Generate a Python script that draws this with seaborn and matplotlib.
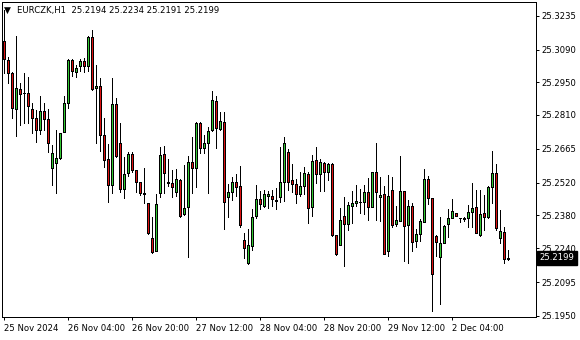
import matplotlib
matplotlib.use("Agg")
import matplotlib.pyplot as plt
import matplotlib.transforms as mtransforms
import seaborn as sns
import pandas as pd
import numpy as np

symbol = "EURCZK,H1"

opens = [
    25.3127, 25.3045, 25.2990, 25.2836, 25.2921, 25.2904, 25.2904, 25.2836, 25.2797, 25.2746,
    25.2827, 25.2793, 25.2583, 25.2604, 25.2626, 25.2737, 25.2861, 25.3045, 25.2994, 25.3020,
    25.3041, 25.3020, 25.3144, 25.2925, 25.2934, 25.2724, 25.2622, 25.2510, 25.2857, 25.2690,
    25.2493, 25.2562, 25.2643, 25.2574, 25.2523, 25.2476, 25.2433, 25.2283, 25.2228, 25.2476,
    25.2643, 25.2521, 25.2519, 25.2480, 25.2532, 25.2386, 25.2416, 25.2609, 25.2583, 25.2776,
    25.2669, 25.2690, 25.2746, 25.2870, 25.2750, 25.2780, 25.2459, 25.2480, 25.2523, 25.2506,
    25.2275, 25.2176, 25.2249, 25.2378, 25.2450, 25.2420, 25.2463, 25.2463, 25.2446, 25.2459,
    25.2523, 25.2651, 25.2532, 25.2514, 25.2472, 25.2506, 25.2557, 25.2416, 25.2617, 25.2557,
    25.2604, 25.2566, 25.2600, 25.2296, 25.2254, 25.2378, 25.2343, 25.2420, 25.2433, 25.2437,
    25.2437, 25.2480, 25.2416, 25.2566, 25.2459, 25.2472, 25.2228, 25.2489, 25.2343, 25.2356,
    25.2484, 25.2339, 25.2420, 25.2271, 25.2300, 25.2352, 25.2536, 25.2455, 25.2292, 25.2202,
    25.2262, 25.2343, 25.2369, 25.2389, 25.2368, 25.2367, 25.2371, 25.2393, 25.2414, 25.2296,
    25.2389, 25.2372, 25.2500, 25.2560, 25.2282, 25.2308, 25.2194]

highs = [
    25.3260, 25.3058, 25.2994, 25.3148, 25.2947, 25.2990, 25.2972, 25.2861, 25.2831, 25.2891,
    25.2861, 25.2836, 25.2681, 25.2746, 25.2734, 25.2891, 25.3051, 25.3050, 25.3024, 25.3050,
    25.3054, 25.3148, 25.3174, 25.3024, 25.2968, 25.2797, 25.2686, 25.2968, 25.2883, 25.2776,
    25.2630, 25.2651, 25.2651, 25.2575, 25.2524, 25.2583, 25.2434, 25.2373, 25.2472, 25.2673,
    25.2677, 25.2622, 25.2574, 25.2579, 25.2534, 25.2596, 25.2634, 25.2716, 25.2780, 25.2780,
    25.2724, 25.2758, 25.2913, 25.2891, 25.2823, 25.2823, 25.2514, 25.2545, 25.2557, 25.2592,
    25.2305, 25.2322, 25.2407, 25.2510, 25.2484, 25.2489, 25.2484, 25.2489, 25.2497, 25.2673,
    25.2716, 25.2664, 25.2600, 25.2536, 25.2566, 25.2587, 25.2566, 25.2639, 25.2673, 25.2622,
    25.2609, 25.2605, 25.2603, 25.2297, 25.2412, 25.2459, 25.2437, 25.2484, 25.2510, 25.2493,
    25.2510, 25.2540, 25.2566, 25.2690, 25.2545, 25.2506, 25.2553, 25.2545, 25.2420, 25.2634,
    25.2485, 25.2446, 25.2433, 25.2322, 25.2365, 25.2579, 25.2549, 25.2456, 25.2297, 25.2373,
    25.2339, 25.2407, 25.2450, 25.2390, 25.2369, 25.2373, 25.2425, 25.2519, 25.2489, 25.2489,
    25.2467, 25.2506, 25.2656, 25.2600, 25.2403, 25.2330, 25.2234]

lows = [
    25.2990, 25.2947, 25.2797, 25.2720, 25.2767, 25.2776, 25.2776, 25.2733, 25.2694, 25.2729,
    25.2746, 25.2651, 25.2510, 25.2476, 25.2622, 25.2736, 25.2840, 25.2977, 25.2972, 25.2998,
    25.2994, 25.2998, 25.2917, 25.2690, 25.2656, 25.2587, 25.2437, 25.2476, 25.2630, 25.2480,
    25.2455, 25.2549, 25.2566, 25.2480, 25.2467, 25.2433, 25.2300, 25.2219, 25.2226, 25.2459,
    25.2476, 25.2506, 25.2459, 25.2463, 25.2373, 25.2381, 25.2202, 25.2476, 25.2502, 25.2647,
    25.2647, 25.2476, 25.2741, 25.2669, 25.2746, 25.2322, 25.2373, 25.2446, 25.2463, 25.2330,
    25.2198, 25.2174, 25.2232, 25.2369, 25.2407, 25.2416, 25.2412, 25.2420, 25.2407, 25.2437,
    25.2442, 25.2489, 25.2480, 25.2433, 25.2463, 25.2472, 25.2348, 25.2378, 25.2519, 25.2484,
    25.2484, 25.2532, 25.2292, 25.2210, 25.2252, 25.2164, 25.2318, 25.2348, 25.2420, 25.2390,
    25.2386, 25.2360, 25.2414, 25.2360, 25.2356, 25.2213, 25.2206, 25.2330, 25.2335, 25.2354,
    25.2185, 25.2176, 25.2228, 25.2245, 25.2271, 25.2350, 25.2429, 25.1971, 25.2206, 25.2001,
    25.2260, 25.2288, 25.2367, 25.2378, 25.2352, 25.2356, 25.2330, 25.2330, 25.2303, 25.2292,
    25.2318, 25.2371, 25.2433, 25.2318, 25.2262, 25.2178, 25.2191]

closes = [
    25.3050, 25.2990, 25.2840, 25.2925, 25.2900, 25.2902, 25.2848, 25.2797, 25.2746, 25.2827,
    25.2793, 25.2690, 25.2647, 25.2626, 25.2733, 25.2861, 25.3045, 25.2998, 25.3011, 25.3041,
    25.3020, 25.3144, 25.2921, 25.2934, 25.2724, 25.2617, 25.2510, 25.2857, 25.2634, 25.2493,
    25.2557, 25.2643, 25.2574, 25.2523, 25.2476, 25.2472, 25.2305, 25.2223, 25.2429, 25.2639,
    25.2562, 25.2519, 25.2502, 25.2536, 25.2378, 25.2412, 25.2609, 25.2583, 25.2776, 25.2669,
    25.2690, 25.2741, 25.2874, 25.2754, 25.2784, 25.2437, 25.2480, 25.2523, 25.2502, 25.2339,
    25.2241, 25.2254, 25.2373, 25.2450, 25.2429, 25.2472, 25.2470, 25.2450, 25.2440, 25.2523,
    25.2690, 25.2523, 25.2514, 25.2472, 25.2506, 25.2562, 25.2412, 25.2613, 25.2557, 25.2609,
    25.2566, 25.2600, 25.2296, 25.2215, 25.2360, 25.2343, 25.2425, 25.2433, 25.2442, 25.2436,
    25.2480, 25.2416, 25.2565, 25.2480, 25.2467, 25.2215, 25.2463, 25.2339, 25.2360, 25.2484,
    25.2335, 25.2420, 25.2266, 25.2300, 25.2356, 25.2536, 25.2455, 25.2129, 25.2266, 25.2262,
    25.2335, 25.2369, 25.2399, 25.2379, 25.2367, 25.2366, 25.2395, 25.2410, 25.2305, 25.2388,
    25.2372, 25.2500, 25.2560, 25.2327, 25.2313, 25.2192, 25.2199]

price_ticks = [25.3235, 25.3090, 25.2950, 25.2810, 25.2665,
               25.2520, 25.2380, 25.2240, 25.2095, 25.1950]
time_labels = ["25 Nov 2024", "26 Nov 04:00", "26 Nov 20:00", "27 Nov 12:00",
               "28 Nov 04:00", "28 Nov 20:00", "29 Nov 12:00", "2 Dec 04:00"]
time_label_bars = [0, 16, 32, 48, 64, 80, 96, 112]

BULL = "#32C832"
BEAR = "#DD1111"

sns.set_theme(style="white")
plt.rcParams['font.family'] = ['DejaVu Sans']

df = pd.DataFrame({"open": opens, "high": highs, "low": lows, "close": closes})
df["bar"] = np.arange(len(df))
df["bottom"] = df[["open", "close"]].min(axis=1)
df["height"] = (df["close"] - df["open"]).abs()
df["color"] = np.where(df["close"] >= df["open"], BULL, BEAR)

W, H = 580, 340
fig = plt.figure(figsize=(W / 100, H / 100), dpi=100)
fig.patch.set_facecolor("white")
ax = fig.add_axes([2 / W, 23 / H, 533.5 / W, 315.5 / H])
ax.set_facecolor("white")

px = 0.72
ax.vlines(df["bar"], df["low"], df["high"], colors="black", linewidth=px,
          antialiased=False, zorder=2)
ax.bar(df["bar"], df["height"], bottom=df["bottom"], width=0.5,
       color=df["color"], edgecolor="black", linewidth=px,
       antialiased=False, zorder=3)

ax.set_xlim(-0.375, 133.0)
ax.set_ylim(25.19452, 25.32956)

for s in ax.spines.values():
    s.set_visible(True)
    s.set_color("black")
    s.set_linewidth(px)

fs = 6.1
ax.yaxis.tick_right()
ax.set_yticks(price_ticks)
ax.set_yticklabels([f"{p:.4f}" for p in price_ticks])
ax.tick_params(axis="y", left=False, right=True, labelleft=False, labelright=True,
               length=2.5, width=px, pad=2, labelsize=fs, color="black",
               labelcolor="black", direction="out")
ax.set_xticks(time_label_bars)
ax.set_xticklabels(time_labels, ha="left")
ax.tick_params(axis="x", bottom=True, top=False, length=2.5, width=px, pad=2.5,
               labelsize=fs, color="black", labelcolor="black", direction="out")
ax.grid(False)

# top-left info line
fig.text(4 / W, 1 - 10 / H, "\u25BC", fontsize=6.5, va="center", ha="left", color="black")
info = f"{symbol}  {opens[-1]:.4f} {highs[-1]:.4f} {lows[-1]:.4f} {closes[-1]:.4f}"
fig.text(17 / W, 1 - 10 / H, info, fontsize=fs, va="center", ha="left", color="black")

# current price label
trans = mtransforms.blended_transform_factory(ax.transAxes, ax.transData)
ax.text(1.0 + 4 / 533.5, closes[-1], f"{closes[-1]:.4f}", transform=trans,
        ha="left", va="center", color="white", fontsize=fs,
        bbox=dict(boxstyle="square,pad=0.3", fc="black", ec="black"),
        clip_on=False, zorder=10)

fig.savefig("out.png", dpi=100, facecolor="white")
